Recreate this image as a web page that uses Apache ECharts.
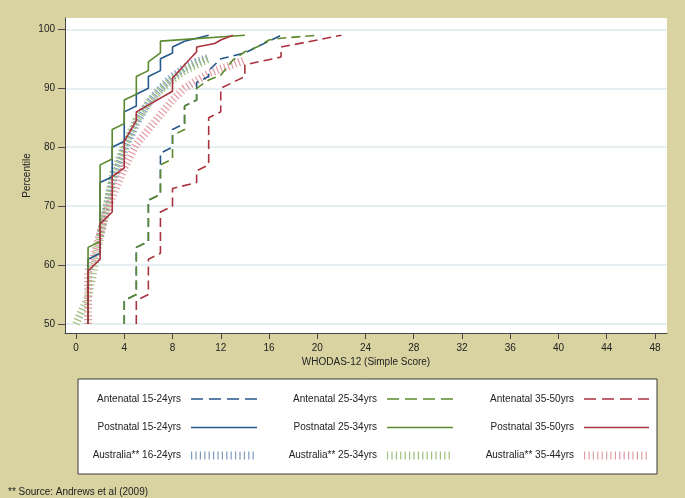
<!DOCTYPE html>
<html><head><meta charset="utf-8">
<script src="https://cdn.jsdelivr.net/npm/echarts@6/dist/echarts.min.js"></script>
<style>html,body{margin:0;padding:0;background:#d8d3a1}#c{width:685px;height:498px}</style>
</head><body><div id="c"></div>
<script>
// ---- data ----
const xTicks = [0,4,8,12,16,20,24,28,32,36,40,44,48];
const yTicks = [50,60,70,80,90,100];
const xTitle = 'WHODAS-12 (Simple Score)';
const yTitle = 'Percentile';
const footnote = '** Source: Andrews et al (2009)';

const seriesNames = [
  'Antenatal 15-24yrs','Antenatal 25-34yrs','Antenatal 35-50yrs',
  'Postnatal 15-24yrs','Postnatal 25-34yrs','Postnatal 35-50yrs',
  'Australia** 16-24yrs','Australia** 25-34yrs','Australia** 35-44yrs'
];
// [score, percentile]
const antenatal1524 = [[4,50],[4,54],[5,55],[5,63],[6,64],[6,71],[7,72],[7,79],[8,80],[8,83],[9,84],[9,87],[10,88],[10,91],[11,92],[11,93],[12,95],[14,96],[15,97],[16,98],[17,99]];
const antenatal2534 = [[4,50],[4,54],[5,55],[5,63],[6,64],[6,71],[7,72],[7,77],[8,78],[8,82],[9,83],[9,87],[10,88],[10,90],[11,91.4],[12,92.2],[13,94.8],[14,96.2],[15,97],[16,98.2],[17,98.5],[20,99]];
const antenatal3550 = [[5,50],[5,54],[6,55],[6,61],[7,62],[7,69],[8,70],[8,73],[10,74],[10,76],[11,77],[11,85],[12,86],[12,90],[14,92],[14,94],[17,95.3],[17,97],[22,99]];
const postnatal1524 = [[1,50],[1,61],[2,62],[2,74],[3,75],[3,80],[4,81],[4,86],[5,87],[5,89],[6,90],[6,92],[7,93],[7,95],[8,96],[8,97],[9,98],[11,99]];
const postnatal2534 = [[1,50],[1,63],[2,64],[2,77],[3,78],[3,83],[4,84],[4,88],[5,89],[5,92],[6,93],[6,94.5],[7,96],[7,98],[14,99]];
const postnatal3550 = [[1,50],[1,59],[2,61],[2,67],[3,69],[3,75],[4,76.5],[4,81],[5,84.5],[5,86],[8,89.5],[8,91.7],[9,94],[10,96.2],[10,97],[11.5,97.6],[12,98.2],[13,99]];
const australia1624 = [[2,65],[3,74],[4,79.5],[5,84],[6,87.5],[7,90],[8,92],[9,93.5],[10,94.5],[11,95.2]];
const australia2534 = [[0,50],[0.5,52.3],[1,54.5],[1.4,58.5],[1.7,62],[2.3,67.6],[3.1,75.6],[4,80.2],[5,84.6],[6,87.5],[7,89.7],[8,91.5],[9,93],[10,94],[11,95]];
const australia3544 = [[1,50],[1,59],[1.4,61],[2.3,67.6],[3,71.5],[4,76.5],[5,80.5],[6,83],[7,85.5],[8,88],[9,90],[10,91.3],[11,92.5],[12,93.3],[13,94],[14,94.8]];

// ---- styles ----
const C = {blue:'#24578b', green:'#5b8a2e', red:'#a9323f',
           hblue:'#7d9cbc', hgreen:'#9fbd7c', hred:'#e19aa3'};
const styles = [
  {color:C.blue, width:1.6, type:[9,5]},
  {color:C.green, width:1.6, type:[9,5]},
  {color:C.red, width:1.6, type:[9,5]},
  {color:C.blue, width:1.6, type:'solid'},
  {color:C.green, width:1.6, type:'solid'},
  {color:C.red, width:1.6, type:'solid'},
  {color:C.hblue, width:8, type:[1.2,2.6]},
  {color:C.hgreen, width:8, type:[1.2,2.6]},
  {color:C.hred, width:8, type:[1.2,2.6]}
];
const datasets = [antenatal1524,antenatal2534,antenatal3550,postnatal1524,postnatal2534,postnatal3550,australia1624,australia2534,australia3544];
const drawOrder = [6,7,8,0,1,2,3,4,5];

const FONT = 'Liberation Sans, Arial, Helvetica, sans-serif';
const chart = echarts.init(document.getElementById('c'), null, {renderer:'canvas'});

const series = drawOrder.map(i => ({
  name: seriesNames[i], type:'line', data: datasets[i], showSymbol:false,
  lineStyle: {color:styles[i].color, width:styles[i].width, type:styles[i].type, cap:'butt'},
  itemStyle:{color:styles[i].color}, z: i>=6 ? 2 : 3, silent:true
}));

// legend built with graphic elements
const legendGraphic = [{
  type:'rect', shape:{x:78, y:379, width:579, height:95},
  style:{fill:'#ffffff', stroke:'#3a3a3a', lineWidth:1}, z:10
}];
const colText = [181, 377, 574];
const colKey = [[191,257],[387,453],[584,649]];
const rowY = [399, 427.5, 455.5];
for (let i=0;i<9;i++){
  const row = Math.floor(i/3), col = i%3;
  legendGraphic.push({type:'text', x:colText[col], y:rowY[row], z:11,
    style:{text:seriesNames[i], font:'10px '+FONT, fill:'#222', align:'right', verticalAlign:'middle'}});
  const s = styles[i];
  legendGraphic.push({type:'line', z:11,
    shape:{x1:colKey[col][0], y1:rowY[row], x2:colKey[col][1], y2:rowY[row]},
    style:{stroke:s.color, lineWidth:s.width, lineDash: s.type==='solid'?null:(i>=6?[1.2,3.2]:[12,6]), lineCap:'butt'}});
}
legendGraphic.push({type:'text', x:8, y:492, style:{text:footnote, font:'10px '+FONT, fill:'#222', verticalAlign:'middle'}});

chart.setOption({
  animation:false,
  backgroundColor:'#d8d3a1',
  grid:{left:65, right:18, top:18, bottom:165, show:true, backgroundColor:'#ffffff', borderWidth:0},
  xAxis:{type:'value', min:-0.912, max:48.995,
    name:xTitle, nameLocation:'middle', nameGap:24, nameMoveOverlap:false,
    nameTextStyle:{fontFamily:FONT, fontSize:10, color:'#222'},
    axisLine:{show:true, onZero:false, lineStyle:{color:'#444', width:1}},
    axisTick:{show:true, length:6, lineStyle:{color:'#444'}, customValues:xTicks},
    axisLabel:{fontFamily:FONT, fontSize:10, color:'#222', margin:10, customValues:xTicks},
    splitLine:{show:false}},
  yAxis:{type:'value', min:48.47, max:101.93,
    name:yTitle, nameLocation:'middle', nameGap:33, nameRotate:90, nameMoveOverlap:false,
    nameTextStyle:{fontFamily:FONT, fontSize:10, color:'#222'},
    axisLine:{show:true, onZero:false, lineStyle:{color:'#444', width:1}},
    axisTick:{show:true, length:7, lineStyle:{color:'#444'}, customValues:yTicks},
    axisLabel:{fontFamily:FONT, fontSize:10, color:'#222', margin:10, customValues:yTicks},
    splitLine:{show:true, lineStyle:{color:'#e6eef1', width:1.8}}},
  series: series,
  graphic: legendGraphic
});
</script></body></html>
